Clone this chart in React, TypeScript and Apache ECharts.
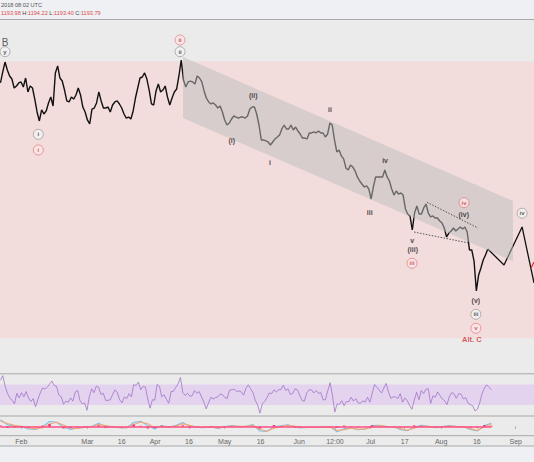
import React, { useEffect, useRef } from "react";
import * as echarts from "echarts";

// ---- time scale: session index (tick positions as they sit on the chart) ----
const tMin = 21.8;
const tMax = 255.2;
const tickT = [31.1, 60.0, 75.0, 89.6, 104.4, 120.0, 135.7, 152.6, 168.2, 183.8, 198.7, 214.6, 230.2, 247.2];
const tickLabels = ["Feb", "Mar", "16", "Apr", "16", "May", "16", "Jun", "12:00", "Jul", "17", "Aug", "16", "Sep"];

// ---- price (one value per session, starting at session 22) ----
const priceStart = 22;
const closes = [
  1346, 1355.8, 1364.6, 1357.5, 1352.2, 1349.5, 1341.5, 1343.3, 1346, 1346.9,
  1342.4, 1350.4, 1338, 1343.3, 1341.5, 1331.7, 1320.2, 1312.2, 1322, 1318.4,
  1321.1, 1328.2, 1333.5, 1325.5, 1354.9, 1361.1, 1350.4, 1347.7, 1339.7, 1330,
  1329.1, 1333.5, 1331.7, 1335.3, 1341.5, 1335.3, 1324.6, 1320.2, 1313.1, 1309.5,
  1322.8, 1323.7, 1328.2, 1338, 1330, 1323.7, 1323.7, 1324.6, 1320.2, 1326.4,
  1329.1, 1330, 1327.3, 1323.7, 1318.4, 1314.8, 1315.7, 1313.9, 1321.1, 1332.6,
  1341.5, 1350.4, 1351.3, 1354.9, 1349.5, 1339.7, 1327.3, 1326.4, 1338.9, 1345.1,
  1338, 1339.7, 1343.3, 1333.5, 1326.4, 1332.6, 1338, 1340.6, 1352.2, 1366.4,
  1348.6, 1342.4, 1346.9, 1347.7, 1346.9, 1345.1, 1352.2, 1350.4, 1346.9, 1338.9,
  1332.6, 1329.1, 1327.3, 1328.2, 1326.4, 1323.7, 1325.5, 1320.2, 1313.1, 1308.6,
  1310.4, 1313.9, 1316.6, 1315.7, 1314.8, 1315.7, 1315.7, 1314.8, 1316.6, 1322.8,
  1324.6, 1324.6, 1318.4, 1308.6, 1295.3, 1295.3, 1294.4, 1293.5, 1290.8, 1293.5,
  1296.2, 1297.9, 1299.7, 1305.1, 1308.6, 1305.1, 1305.1, 1308.6, 1304.2, 1306.8,
  1303.3, 1300.6, 1297, 1297, 1296.2, 1301.5, 1301.5, 1302.4, 1301.5, 1303.3,
  1301.5, 1301.5, 1297.9, 1300.6, 1310.4, 1308.6, 1295.3, 1284.6, 1286.4, 1281.1,
  1278.4, 1270.4, 1268.6, 1273, 1271.3, 1267.7, 1262.4, 1258.8, 1256.1, 1253.5,
  1254.4, 1251.7, 1242.8, 1253.5, 1262.4, 1262.4, 1262.4, 1262.4, 1268.6, 1262.4,
  1258.8, 1251.7, 1246.3, 1249.9, 1247.2, 1248.1, 1246.3, 1233.9, 1229.5, 1227.7,
  1215.2, 1230.3, 1236.6, 1229.5, 1229.5, 1234.8, 1238.3, 1230.3, 1226.8, 1227.7,
  1225.9, 1225.9, 1223.2, 1221.4, 1217, 1209, 1212.5, 1214.3, 1217, 1214.3,
  1216.1, 1217.9, 1216.1, 1217.9, 1213.4, 1197.4, 1197.4, 1187.6, 1161, 1175.2,
  1181.4, 1188.5, 1193, 1198.3,
];

// projected path (black) and alternative path (red)
const projT = [235, 242.1, 250, 255.2];
const projPrice = [1198.3, 1184.1, 1217.9, 1168.1];
const altT = [253.9, 255.2];
const altPrice = [1181.4, 1186.7];

// pink target zone and falling channel
const zoneLow = 1119;
const zoneHigh = 1365;
const channelT = [101.8, 246];
const channelUpper = [1369.1, 1241];
const channelLower = [1314.8, 1187.6];
const wedgeUpperT = [208.4, 230.7];
const wedgeUpperP = [1239.9, 1217];
const wedgeLowerT = [202.8, 226.8];
const wedgeLowerP = [1213.4, 1203.6];

// wave labels
const waveText = ["B", "y", "i", "i", "ii", "ii", "(ii)", "(i)", "i", "ii", "iv", "iii", "v", "(iii)", "iii", "iv", "(iv)", "(v)", "iii", "v", "Alt. C", "iv"];
const waveT = [24, 24, 38.55, 38.55, 100.5, 100.5, 132.5, 123.1, 139.8, 166, 190.1, 183.4, 202, 202.2, 201.9, 224.6, 224.5, 229.8, 229.8, 229.8, 228, 250];
const wavePrice = [1382.2, 1373.8, 1300.3, 1286.4, 1384.2, 1373.8, 1334.4, 1294.6, 1275.4, 1322.8, 1276.6, 1230.9, 1205.7, 1198.1, 1185.6, 1239.5, 1228.6, 1152.1, 1140.2, 1127.8, 1117.4, 1230.1];
const waveKind = ["big", "gray", "gray", "red", "red", "gray", "plain", "plain", "plain", "plain", "plain", "plain", "plain", "plain", "red", "red", "plain", "plain", "gray", "red", "alt", "gray"];

// ---- RSI (one value per sample, sample spacing in sessions) ----
const rsiStart = 22;
const rsiStep = 1.0218;
const rsi = [
  78.3, 87.2, 66.6, 52.8, 43.8, 39, 32.1, 52.8, 43.8, 54.1,
  45.9, 56.2, 43.8, 36.9, 42.4, 26.5, 41, 53.4, 63.1, 61,
  64.5, 70.7, 76.9, 67.9, 66.6, 49.3, 45.9, 31.4, 37.6, 35.5,
  43.8, 37.6, 55.5, 58.3, 39, 32.1, 34.1, 19.6, 45.9, 61.7,
  54.1, 66.6, 64.5, 50.7, 52.8, 39, 39, 40.3, 50.7, 59.7,
  54.1, 40.3, 34.1, 45.9, 42.4, 52.1, 45.9, 70, 67.9, 74.8,
  59.7, 66.6, 65.2, 41.7, 23.8, 40.3, 39.6, 70, 66.6, 45.9,
  50, 41, 33.4, 56.2, 56.9, 64.5, 71.4, 83.8, 54.1, 48.6,
  52.8, 47.2, 47.9, 58.3, 52.8, 56.2, 45.9, 36.2, 22.4, 34.1,
  45.2, 41.7, 44.5, 45.9, 51.4, 50, 44.5, 43.1, 59, 59.7,
  61, 56.2, 57.6, 55.5, 49.3, 62.4, 69.3, 61.7, 54.1, 39,
  30, 14.1, 32.1, 36.9, 44.5, 53.4, 52.1, 59.7, 55.5, 59.7,
  60.3, 68.6, 58.3, 61.7, 50.7, 52.1, 61.7, 59.7, 49.3, 39,
  37.6, 53.4, 59.7, 59.7, 53.4, 58.3, 52.8, 54.1, 40.3, 40.3,
  57.6, 73.5, 49.3, 16.2, 32.1, 31.4, 38.3, 28.6, 36.9, 36.2,
  45.2, 37.6, 42.4, 34.1, 33.4, 38.3, 35.5, 45.2, 35.5, 52.1,
  70, 64.5, 59, 53.4, 63.1, 72.1, 54.8, 43.1, 45.9, 45.9,
  42.4, 52.1, 35.5, 43.8, 38.3, 29.3, 21.7, 39, 54.8, 40.3,
  58.3, 52.1, 61, 61.7, 32.8, 47.9, 45.2, 55.5, 48.6, 41.7,
  38.3, 30.7, 45.9, 54.1, 52.1, 43.1, 52.1, 51.4, 41.7, 44.5,
  33.4, 30.7, 28.6, 18.3, 21.7, 34.1, 52.1, 63.1, 69.3, 64.5,
  59.7,
];
const rsiLow = 30;
const rsiHigh = 70;

// ---- MACD ----
const macdStart = 22;
const macdStep = 3.065;
const macd = [6.7, 1.7, 0.3, 0, -2.3, -2.7, 0, 5, 4.3, -0.3, -2.7, -1.3, -0.3, 0, 3.3, -0.3, -0.3, -1, -1, 4, 5.3, 1, -2.3, 1, -0.7, 1, 4, 0, -0.7, -1, 0, -1.7, 0, 1, 0, 0.3, 2, -4.3, -4.7, 0, 0.7, 1.7, -0.3, -1, -0.7, -0.7, -0.7, 0, -5, -2, -1.3, -3, -2.3, 1, 1.3, 0, 0, -2.7, -4, -0.3, 1.3, 0.3, -1, 0, 1, 0, 0, -2.7, -4.3, 1, 3.3];
const signal = [5.5, 3.0, 1.2, 0.4, -1.2, -2.2, -1.0, 2.5, 4.2, 1.5, -1.5, -1.8, -0.8, -0.2, 2.0, 1.0, -0.2, -0.8, -1.0, 2.0, 4.5, 2.8, -0.8, 0.2, -0.2, 0.5, 2.8, 1.2, -0.3, -0.8, -0.3, -1.2, -0.5, 0.6, 0.3, 0.3, 1.4, -2.5, -4.5, -1.5, 0.2, 1.3, 0.4, -0.7, -0.8, -0.7, -0.7, -0.2, -3.8, -3.0, -1.6, -2.5, -2.5, -0.3, 1.0, 0.4, 0.1, -2.0, -3.5, -1.5, 0.6, 0.4, -0.6, -0.2, 0.6, 0.2, 0.0, -2.0, -3.8, -0.5, 2.5];
const hist = [1.2, -1.3, -0.9, -0.4, -1.1, -0.5, 1.0, 2.5, 0.1, -1.8, -1.2, 0.5, 0.5, 0.2, 1.3, -1.3, -0.1, -0.2, 0.0, 2.0, 0.8, -1.8, -1.5, 0.8, -0.5, 0.5, 1.2, -1.2, -0.4, -0.2, 0.3, -0.5, 0.5, 0.4, -0.3, 0.0, 0.6, -1.8, -0.2, 1.5, 0.5, 0.4, -0.7, -0.3, 0.1, 0.0, 0.0, 0.2, -1.2, 1.0, 0.3, -0.5, 0.2, 1.3, 0.3, -0.4, -0.1, -0.7, -0.5, 1.2, 0.7, -0.1, -0.4, 0.2, 0.4, -0.2, 0.0, -0.7, -0.5, 1.5, 0.8];

// ---- header ----
const headerTime = "2018 08:02 UTC";
const ohlcOpen = "1193.98";
const ohlcHigh = "1194.22";
const ohlcLow = "1193.40";
const ohlcClose = "1193.79";

const FONT = "Liberation Sans, Arial, sans-serif";

function seq(start: number, step: number, vals: number[]) {
  return vals.map((v, i) => [start + i * step, v]);
}
function zip(a: number[], b: number[]) {
  return a.map((v, i) => [v, b[i]]);
}

function labelSeries(kind: string) {
  const data = waveText
    .map((s, i) => ({ name: s, value: [waveT[i], wavePrice[i]], k: waveKind[i] }))
    .filter((d) => d.k === kind)
    .map((d) => ({ name: d.name, value: d.value }));
  const base: any = {
    type: "scatter",
    xAxisIndex: 0,
    yAxisIndex: 0,
    z: 6,
    silent: true,
    data,
    symbol: "circle",
  };
  const lbl: any = {
    show: true,
    position: "inside",
    formatter: "{b}",
    fontFamily: FONT,
    fontWeight: "bold",
    textBorderWidth: 0,
    textBorderColor: "transparent",
    textShadowBlur: 0,
  };
  if (kind === "gray") {
    return { ...base, symbolSize: 10, itemStyle: { color: "#f2f2f2", borderColor: "#8c8c8c", borderWidth: 0.8 }, label: { ...lbl, fontSize: 6, color: "#333" } };
  }
  if (kind === "red") {
    return { ...base, symbolSize: 10, itemStyle: { color: "#f9e7e7", borderColor: "#e36b6b", borderWidth: 0.8 }, label: { ...lbl, fontSize: 6, color: "#d32f2f" } };
  }
  if (kind === "big") {
    return { ...base, symbolSize: 1, itemStyle: { color: "rgba(0,0,0,0)" }, label: { ...lbl, fontWeight: "normal", fontSize: 10, color: "#333" } };
  }
  if (kind === "alt") {
    return { ...base, symbolSize: 1, itemStyle: { color: "rgba(0,0,0,0)" }, label: { ...lbl, fontSize: 7.5, color: "#d32f2f" } };
  }
  return { ...base, symbolSize: 1, itemStyle: { color: "rgba(0,0,0,0)" }, label: { ...lbl, fontSize: 7, color: "#222" } };
}

export default function App() {
  const ref = useRef<HTMLDivElement>(null);
  useEffect(() => {
    if (!ref.current) return;
    const chart = echarts.init(ref.current, undefined, { renderer: "svg" });
    const xAxes = [0, 1, 2].map((i) => ({
      type: "value",
      gridIndex: i,
      min: tMin,
      max: tMax,
      show: i === 2,
      axisLine: { show: false },
      splitLine: { show: false },
      axisTick: { show: i === 2, customValues: tickT, length: 2, lineStyle: { color: "#999" } },
      axisLabel: {
        show: i === 2,
        customValues: tickT,
        fontSize: 7,
        fontFamily: FONT,
        color: "#666",
        margin: 2.5,
        formatter: (v: number) => {
          let best = 0;
          tickT.forEach((t, k) => {
            if (Math.abs(t - v) < Math.abs(tickT[best] - v)) best = k;
          });
          return tickLabels[best];
        },
      },
    }));
    const option: any = {
      animation: false,
      backgroundColor: "#ebebeb",
      grid: [
        { left: 0, right: 0, top: 20, height: 353, borderWidth: 0 },
        { left: 0, right: 0, top: 374, height: 41.5, borderWidth: 0 },
        { left: 0, right: 0, top: 416.5, height: 19, borderWidth: 0 },
      ],
      xAxis: xAxes,
      yAxis: [
        { type: "value", gridIndex: 0, min: 1088, max: 1402, show: false, splitLine: { show: false } },
        { type: "value", gridIndex: 1, min: 9.5, max: 90.5, show: false, splitLine: { show: false } },
        { type: "value", gridIndex: 2, min: -8.7, max: 9.9, show: false, splitLine: { show: false } },
      ],
      graphic: [
        { type: "rect", shape: { x: 0, y: 0, width: 534, height: 19 }, style: { fill: "#eef0f3" }, z: 10 },
        { type: "line", shape: { x1: 0, y1: 19.5, x2: 534, y2: 19.5 }, style: { stroke: "#a9a9a9", lineWidth: 1 }, z: 10 },
        { type: "rect", shape: { x: 0, y: 446, width: 534, height: 16 }, style: { fill: "#eef0f3" }, z: 10 },
        { type: "line", shape: { x1: 0, y1: 446, x2: 534, y2: 446 }, style: { stroke: "#a9a9a9", lineWidth: 1 }, z: 10 },
        { type: "line", shape: { x1: 0, y1: 373.8, x2: 534, y2: 373.8 }, style: { stroke: "#a9a9a9", lineWidth: 1 }, z: 10 },
        { type: "line", shape: { x1: 0, y1: 416, x2: 534, y2: 416 }, style: { stroke: "#a9a9a9", lineWidth: 1 }, z: 10 },
        { type: "line", shape: { x1: 0, y1: 435.7, x2: 534, y2: 435.7 }, style: { stroke: "#a9a9a9", lineWidth: 1 }, z: 10 },
        {
          type: "text",
          x: 1,
          y: 2,
          z: 11,
          style: { text: headerTime, fontSize: 5.6, fontFamily: FONT, fill: "#555" },
        },
        {
          type: "text",
          x: 1,
          y: 10,
          z: 11,
          style: {
            text: `{v|${ohlcOpen}} {k|H:}{v|${ohlcHigh}} {k|L:}{v|${ohlcLow}} {k|C:}{v|${ohlcClose}}`,
            fontSize: 5.6,
            fontFamily: FONT,
            rich: {
              v: { fill: "#dd4b4b", fontSize: 5.6, fontFamily: FONT },
              k: { fill: "#444", fontSize: 5.6, fontFamily: FONT },
            },
          },
        },
      ],
      series: [
        {
          type: "line",
          xAxisIndex: 0,
          yAxisIndex: 0,
          data: [],
          z: 1,
          silent: true,
          markArea: { silent: true, itemStyle: { color: "#f2dcdc" }, data: [[{ yAxis: zoneLow }, { yAxis: zoneHigh }]] },
        },
        {
          type: "line",
          xAxisIndex: 0,
          yAxisIndex: 0,
          data: seq(priceStart, 1, closes),
          symbol: "none",
          silent: true,
          z: 2,
          lineStyle: { color: "#111", width: 1.4 },
        },
        {
          type: "line",
          xAxisIndex: 0,
          yAxisIndex: 0,
          data: zip(projT, projPrice),
          symbol: "none",
          silent: true,
          z: 2,
          lineStyle: { color: "#111", width: 1.3 },
        },
        {
          type: "line",
          xAxisIndex: 0,
          yAxisIndex: 0,
          data: zip(altT, altPrice),
          symbol: "none",
          silent: true,
          z: 2,
          lineStyle: { color: "#e53935", width: 1.3 },
        },
        {
          type: "custom",
          xAxisIndex: 0,
          yAxisIndex: 0,
          silent: true,
          z: 3,
          data: [[channelT[0], channelUpper[0]]],
          renderItem: (params: any, api: any) => {
            const pts = [
              api.coord([channelT[0], channelUpper[0]]),
              api.coord([channelT[1], channelUpper[1]]),
              api.coord([channelT[1], channelLower[1]]),
              api.coord([channelT[0], channelLower[0]]),
            ];
            return { type: "polygon", shape: { points: pts }, style: { fill: "rgba(190,190,190,0.5)" } };
          },
        },
        {
          type: "line",
          xAxisIndex: 0,
          yAxisIndex: 0,
          data: zip(wedgeUpperT, wedgeUpperP),
          symbol: "none",
          silent: true,
          z: 4,
          lineStyle: { color: "#444", width: 0.9, type: [1.5, 1.5] },
        },
        {
          type: "line",
          xAxisIndex: 0,
          yAxisIndex: 0,
          data: zip(wedgeLowerT, wedgeLowerP),
          symbol: "none",
          silent: true,
          z: 4,
          lineStyle: { color: "#444", width: 0.9, type: [1.5, 1.5] },
        },
        labelSeries("plain"),
        labelSeries("gray"),
        labelSeries("red"),
        labelSeries("big"),
        labelSeries("alt"),
        // RSI
        {
          type: "line",
          xAxisIndex: 1,
          yAxisIndex: 1,
          data: [],
          z: 1,
          silent: true,
          markArea: { silent: true, itemStyle: { color: "#e3d3ef" }, data: [[{ yAxis: rsiLow }, { yAxis: rsiHigh }]] },
        },
        {
          type: "line",
          xAxisIndex: 1,
          yAxisIndex: 1,
          data: seq(rsiStart, rsiStep, rsi),
          symbol: "none",
          silent: true,
          z: 2,
          lineStyle: { color: "#a273c6", width: 0.8 },
        },
        // MACD
        {
          type: "bar",
          xAxisIndex: 2,
          yAxisIndex: 2,
          data: seq(macdStart, macdStep, hist),
          barWidth: 2.5,
          silent: true,
          z: 3,
          itemStyle: { color: "#ff2a6d" },
          markLine: {
            silent: true,
            symbol: "none",
            label: { show: false },
            lineStyle: { color: "#ff4f86", width: 1.5, type: "solid" },
            data: [[{ coord: [macdStart, 0] }, { coord: [macdStart + macdStep * (hist.length - 1), 0] }]],
          },
        },
        {
          type: "line",
          xAxisIndex: 2,
          yAxisIndex: 2,
          data: seq(macdStart, macdStep, macd),
          symbol: "none",
          silent: true,
          z: 2,
          lineStyle: { color: "#7dbfe8", width: 1.1 },
        },
        {
          type: "line",
          xAxisIndex: 2,
          yAxisIndex: 2,
          data: seq(macdStart, macdStep, signal),
          symbol: "none",
          silent: true,
          z: 2,
          lineStyle: { color: "#f2a774", width: 1.1 },
        },
      ],
    };
    chart.setOption(option);
    return () => chart.dispose();
  }, []);
  return (
    <div
      ref={ref}
      style={{ position: "fixed", left: 0, top: 0, width: 534, height: 462 }}
    />
  );
}
